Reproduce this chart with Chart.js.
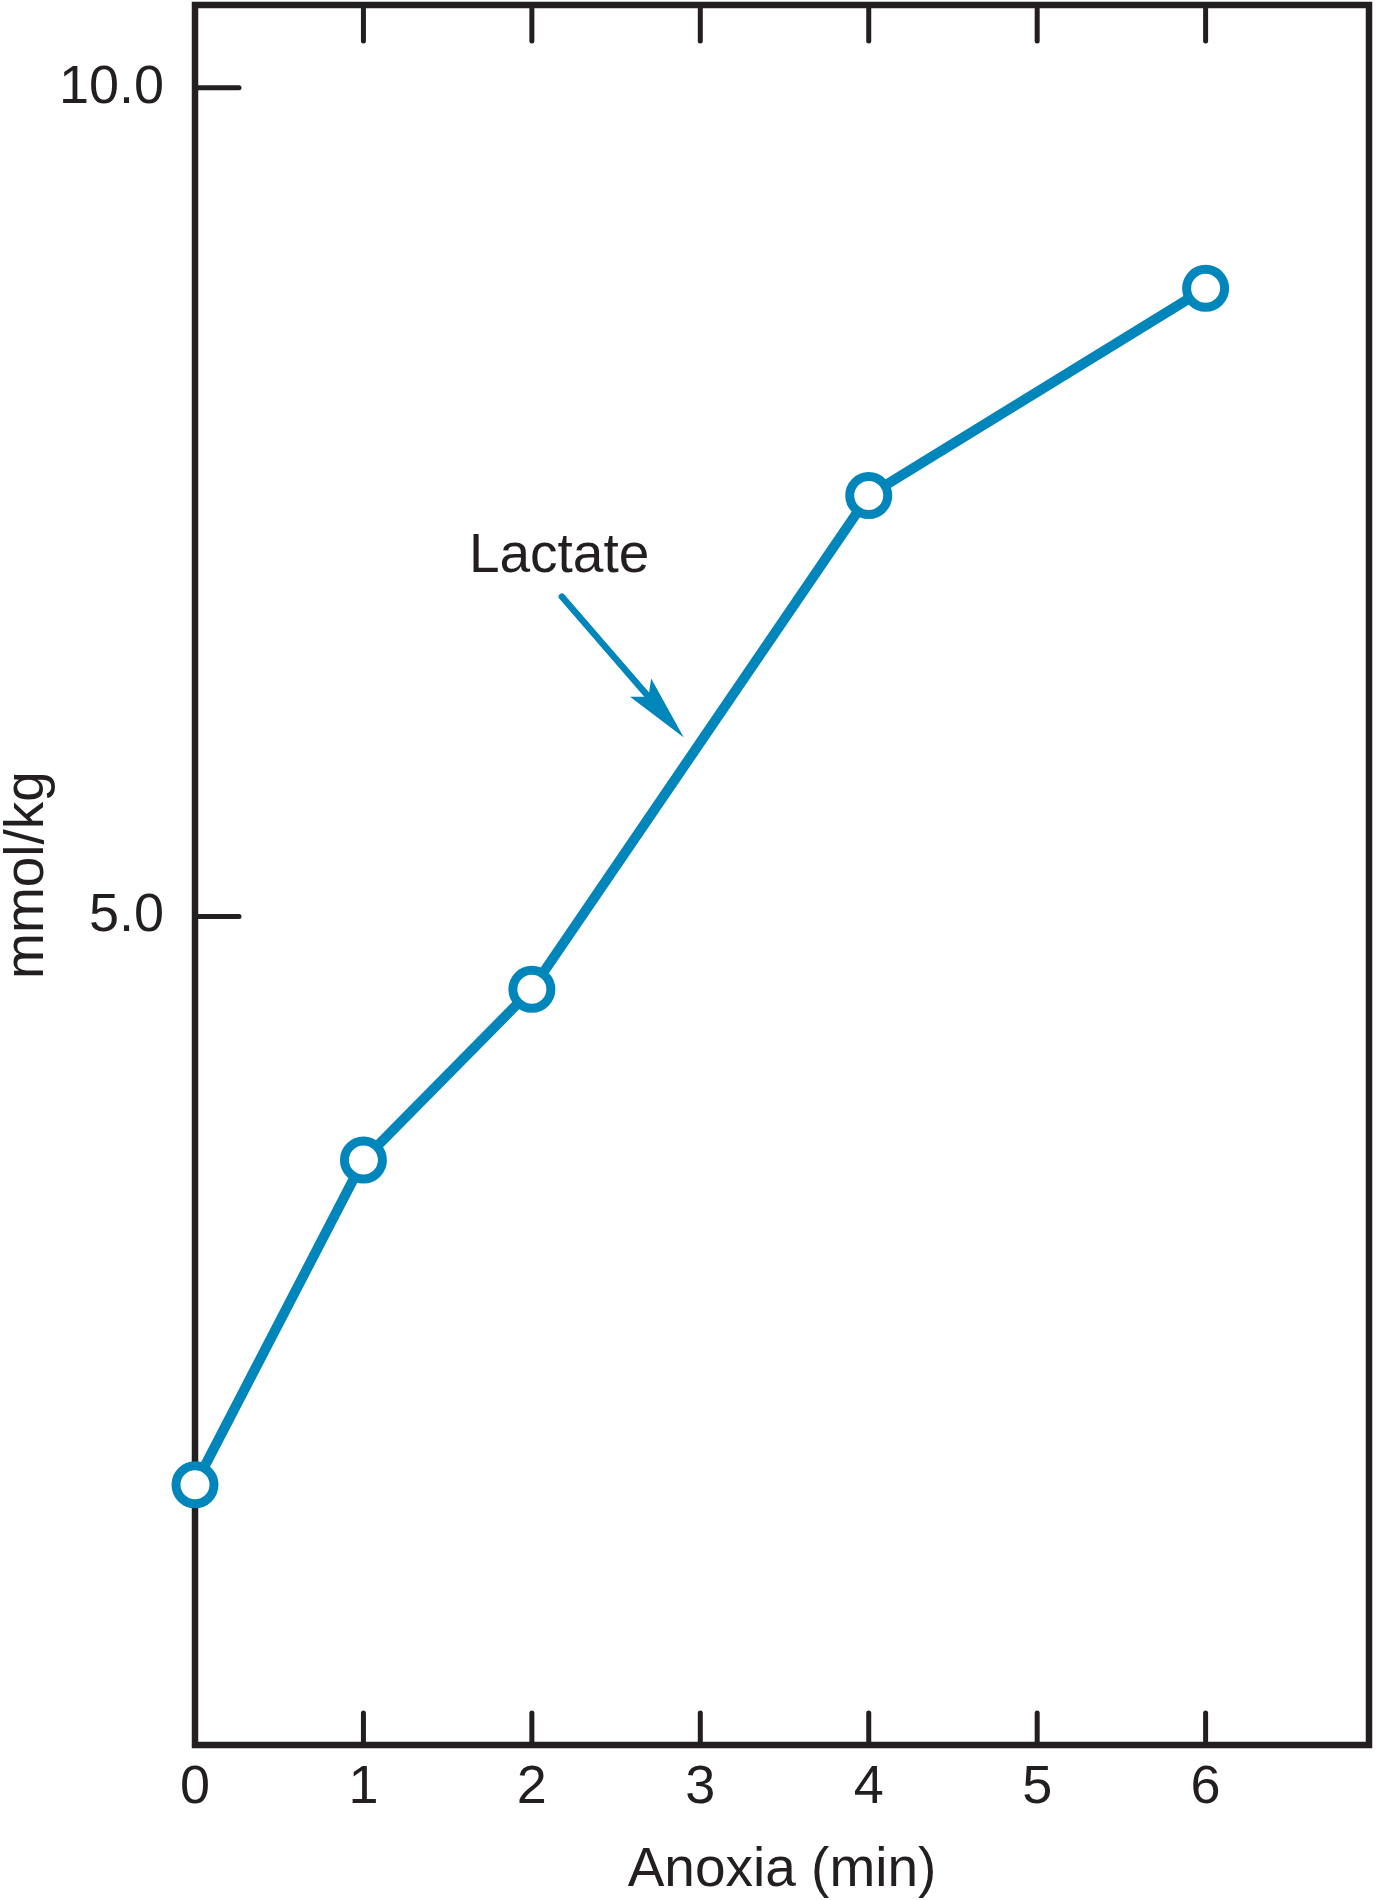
<!DOCTYPE html>
<html><head><meta charset="utf-8">
<script src="https://cdn.jsdelivr.net/npm/chart.js@4.4.1/dist/chart.umd.min.js"></script>
<style>html,body{margin:0;padding:0;background:#fff;overflow:hidden}#wrap{width:1377px;height:1900px;position:relative}</style>
</head><body><div id="wrap"><canvas id="c"></canvas></div>
<script>
// ---- data ----
const minutes = [0, 1, 2, 4, 6];
const lactate = [1.57, 3.53, 4.56, 7.54, 8.79];
const xTickValues = [0, 1, 2, 3, 4, 5, 6];
const yTickValues = [5, 10];
const xAxisTitle = 'Anoxia (min)';
const yAxisTitle = 'mmol/kg';
const seriesLabel = 'Lactate';
const labelAnchor = {x: 1.626, y: 7.076};
const arrowFrom = {x: 2.178, y: 6.93};
const arrowTo = {x: 2.902, y: 6.08};

// ---- style ----
const INK = '#231f20';
const BLUE = '#0086ba';
const FONT = '"Liberation Sans", Arial, Helvetica, sans-serif';

const framePlugin = {
  id: 'frame',
  beforeDatasetsDraw(chart) {
    const {ctx, chartArea: a, scales: {x, y}} = chart;
    ctx.save();
    ctx.strokeStyle = INK;
    ctx.lineWidth = 6.5;
    ctx.lineJoin = 'miter';
    ctx.strokeRect(a.left, a.top, a.right - a.left, a.bottom - a.top);
    ctx.lineWidth = 5;
    ctx.lineCap = 'round';
    ctx.beginPath();
    xTickValues.forEach(v => {
      if (v === x.min) return;
      const px = x.getPixelForValue(v);
      ctx.moveTo(px, a.bottom); ctx.lineTo(px, a.bottom - 32);
      ctx.moveTo(px, a.top); ctx.lineTo(px, a.top + 36);
    });
    yTickValues.forEach(v => {
      const py = y.getPixelForValue(v);
      ctx.moveTo(a.left, py); ctx.lineTo(a.left + 44, py);
    });
    ctx.stroke();
    ctx.restore();
  },
  afterDatasetsDraw(chart) {
    const {ctx, scales: {x, y}} = chart;
    ctx.save();
    // label
    ctx.fillStyle = INK;
    ctx.font = '55px ' + FONT;
    ctx.textAlign = 'left';
    ctx.textBaseline = 'alphabetic';
    ctx.fillText(seriesLabel, x.getPixelForValue(labelAnchor.x), y.getPixelForValue(labelAnchor.y));
    // arrow
    const x0 = x.getPixelForValue(arrowFrom.x), y0 = y.getPixelForValue(arrowFrom.y);
    const x1 = x.getPixelForValue(arrowTo.x), y1 = y.getPixelForValue(arrowTo.y);
    const ang = Math.atan2(y1 - y0, x1 - x0);
    const headLen = 66, headHalf = 14;
    const bx = x1 - headLen * Math.cos(ang), by = y1 - headLen * Math.sin(ang);
    ctx.strokeStyle = BLUE;
    ctx.lineWidth = 6.5;
    ctx.lineCap = 'round';
    ctx.beginPath();
    ctx.moveTo(x0, y0);
    ctx.lineTo(bx + 10 * Math.cos(ang), by + 10 * Math.sin(ang));
    ctx.stroke();
    ctx.fillStyle = BLUE;
    ctx.beginPath();
    ctx.moveTo(x1, y1);
    ctx.lineTo(bx + headHalf * Math.sin(ang), by - headHalf * Math.cos(ang));
    ctx.lineTo(bx + 12 * Math.cos(ang), by + 12 * Math.sin(ang));
    ctx.lineTo(bx - headHalf * Math.sin(ang), by + headHalf * Math.cos(ang));
    ctx.closePath();
    ctx.fill();
    ctx.restore();
  }
};

function noPad(s) { s.paddingTop = 0; s.paddingBottom = 0; s.paddingLeft = 0; s.paddingRight = 0; }

new Chart(document.getElementById('c'), {
  type: 'line',
  data: {
    datasets: [{
      label: seriesLabel,
      data: minutes.map((m, i) => ({x: m, y: lactate[i]})),
      borderColor: BLUE,
      borderWidth: 10,
      tension: 0,
      pointRadius: 19,
      pointBorderWidth: 9,
      pointBorderColor: BLUE,
      pointBackgroundColor: '#ffffff',
      clip: false
    }]
  },
  options: {
    responsive: true,
    maintainAspectRatio: false,
    animation: false,
    devicePixelRatio: 1,
    layout: {autoPadding: false, padding: {top: 5, right: 8, left: 0, bottom: 0}},
    plugins: {legend: {display: false}, tooltip: {enabled: false}},
    scales: {
      x: {
        type: 'linear',
        min: 0, max: 6.97,
        grid: {display: false, drawTicks: false},
        border: {display: false},
        afterBuildTicks: s => { s.ticks = xTickValues.map(v => ({value: v})); },
        afterFit: s => { s.height = 155; noPad(s); },
        ticks: {
          color: INK, padding: 16, maxRotation: 0, autoSkip: false,
          font: {family: FONT, size: 54, lineHeight: 1},
          callback: v => String(v)
        },
        title: {
          display: true, text: xAxisTitle, color: INK,
          font: {family: FONT, size: 55, lineHeight: 1},
          padding: {top: 0, bottom: 2}
        }
      },
      y: {
        type: 'linear',
        min: 0, max: 10.5,
        grid: {display: false, drawTicks: false},
        border: {display: false},
        afterBuildTicks: s => { s.ticks = yTickValues.map(v => ({value: v})); },
        afterFit: s => { s.width = 195; noPad(s); },
        ticks: {
          color: INK, padding: 31, autoSkip: false,
          font: {family: FONT, size: 54, lineHeight: 1},
          callback: v => Number(v).toFixed(1)
        },
        title: {
          display: true, text: yAxisTitle, color: INK,
          font: {family: FONT, size: 55, lineHeight: 1},
          padding: {top: 0, bottom: 0}
        }
      }
    }
  },
  plugins: [framePlugin]
});
</script>
</body></html>
